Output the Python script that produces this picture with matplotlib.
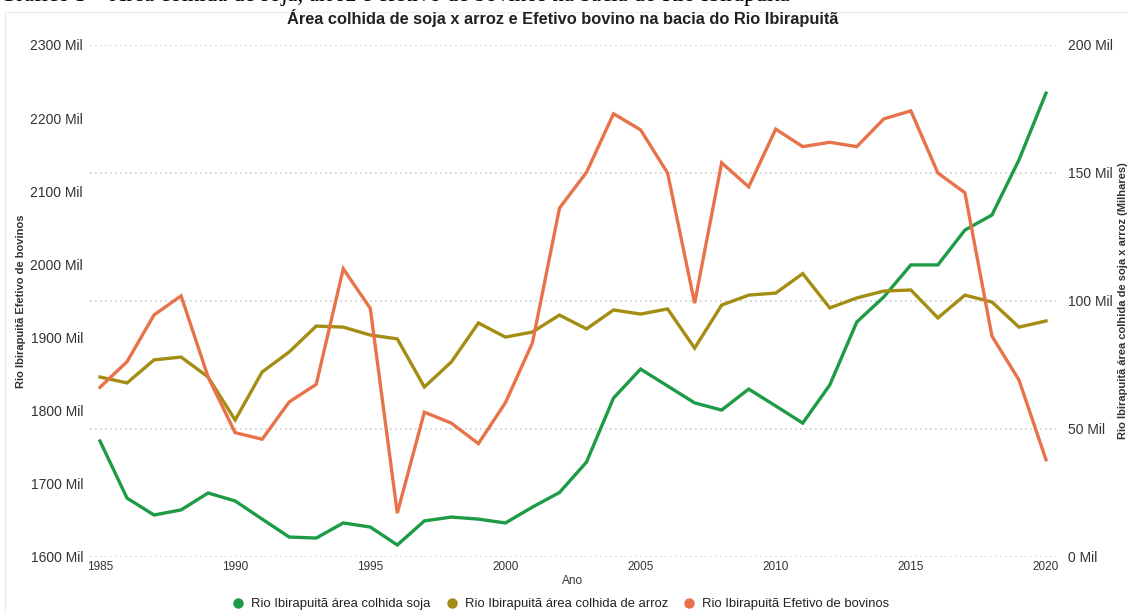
import matplotlib
matplotlib.use("Agg")
import matplotlib.pyplot as plt
from matplotlib.lines import Line2D
from matplotlib.patches import Rectangle

years = list(range(1985, 2021))

bovinos = [1832, 1867, 1931, 1957, 1846, 1770, 1761, 1812, 1836, 1994,
           1940, 1660, 1798, 1783, 1755, 1811, 1893, 2077, 2126, 2206,
           2184, 2125, 1947, 2139, 2106, 2185, 2161, 2167, 2161, 2199,
           2210, 2125, 2098, 1902, 1842, 1733]

soja = [45.3, 23.0, 16.4, 18.4, 25.0, 21.9, 14.8, 7.8, 7.4, 13.3,
        11.7, 4.7, 14.1, 15.6, 14.8, 13.3, 19.5, 25.2, 37.1, 62.1,
        73.4, 66.8, 60.2, 57.4, 65.6, 59.0, 52.3, 67.2, 91.8, 101.6,
        114.1, 114.1, 127.7, 133.6, 155.1, 181.2]

arroz = [70.3, 68.0, 77.0, 78.1, 70.3, 53.5, 72.3, 80.1, 90.2, 89.8,
         86.7, 85.2, 66.4, 76.2, 91.4, 85.9, 87.9, 94.5, 89.1, 96.5,
         94.9, 96.9, 81.6, 98.4, 102.3, 103.1, 110.7, 97.3, 101.2, 103.9,
         104.3, 93.4, 102.3, 99.6, 89.8, 92.2]

left_ticks = [1600, 1700, 1800, 1900, 2000, 2100, 2200, 2300]
right_ticks = [0, 50, 100, 150, 200]
x_ticks = [1985, 1990, 1995, 2000, 2005, 2010, 2015, 2020]

c_soja = "#1E9B45"
c_arroz = "#A38D12"
c_bov = "#E8734A"

W, H = 1127, 614
plt.rcParams['font.family'] = ['Liberation Sans', 'DejaVu Sans']
fig = plt.figure(figsize=(W / 100, H / 100), dpi=100)

# faint card border (left and top edges visible)
fig.patches.append(Rectangle((5 / W, -0.05), 1.0, 1 - 12 / H + 0.05,
                             transform=fig.transFigure, fill=False,
                             edgecolor="#ededed", lw=1.0))

ax_l, ax_r, ax_t, ax_b = 90, 1056, 45, 557
ax = fig.add_axes([ax_l / W, 1 - ax_b / H, (ax_r - ax_l) / W, (ax_b - ax_t) / H])
ax2 = ax.twinx()

ax.set_xlim(1985 - 10 / 27.03, 2020 + 10 / 27.03)
ax.set_ylim(1600, 2300)
ax2.set_ylim(0, 200)

ax2.plot(years, soja, color=c_soja, lw=2.4, solid_joinstyle='miter')
ax2.plot(years, arroz, color=c_arroz, lw=2.4, solid_joinstyle='miter')
ax.plot(years, bovinos, color=c_bov, lw=2.4, solid_joinstyle='miter')
ax.set_zorder(ax2.get_zorder() + 1)
ax.patch.set_visible(False)

for a in (ax, ax2):
    for s in a.spines.values():
        s.set_visible(False)

ax2.set_yticks(right_ticks)
ax2.set_yticklabels([f"{v} Mil" for v in right_ticks], fontsize=10, color="#333333")
ax2.grid(True, axis='y', color="#cccccc", linestyle=(0, (1, 2)), lw=1.2)
ax2.tick_params(axis='y', length=0, pad=9)

ax.set_yticks(left_ticks)
ax.set_yticklabels([f"{v} Mil" for v in left_ticks], fontsize=10, color="#333333")
ax.tick_params(axis='y', length=0, pad=5)

ax.set_xticks(x_ticks)
ax.set_xticklabels([str(v) for v in x_ticks], fontsize=8.5, color="#333333")
ax.tick_params(axis='x', length=0, pad=3)

ax.set_xlabel("Ano", fontsize=8.5, color="#333333", labelpad=1)
ax.set_ylabel("Rio Ibirapuitã Efetivo de bovinos", fontsize=8, color="#333333",
              fontweight='bold', labelpad=3)
ax2.set_ylabel("Rio Ibirapuitã área colhida de soja x arroz (Milhares)", fontsize=8,
               color="#333333", fontweight='bold', rotation=90, labelpad=3)

fig.text(563 / W, 1 - 18 / H, "Área colhida de soja x arroz e Efetivo bovino na bacia do Rio Ibirapuitã",
         ha='center', va='center', fontsize=11.8, fontweight='bold', color="#222222")

fig.text(0, 1 + 7 / H, "Gráfico 3 – Área colhida de soja, arroz e efetivo de bovinos na bacia do Rio Ibirapuitã",
         ha='left', va='center', fontsize=16.5, family=['Liberation Serif', 'DejaVu Serif'], color="black")

handles = [Line2D([], [], marker='o', ls='', color=c, markersize=6.5) for c in (c_soja, c_arroz, c_bov)]
labels = ["Rio Ibirapuitã área colhida soja", "Rio Ibirapuitã área colhida de arroz",
          "Rio Ibirapuitã Efetivo de bovinos"]
fig.legend(handles, labels, loc='center', bbox_to_anchor=(557 / W, 1 - 604 / H), ncol=3,
           frameon=False, fontsize=9.4, handletextpad=0.0, columnspacing=0.6,
           labelcolor="#222222")

fig.savefig("out.png", dpi=100)
